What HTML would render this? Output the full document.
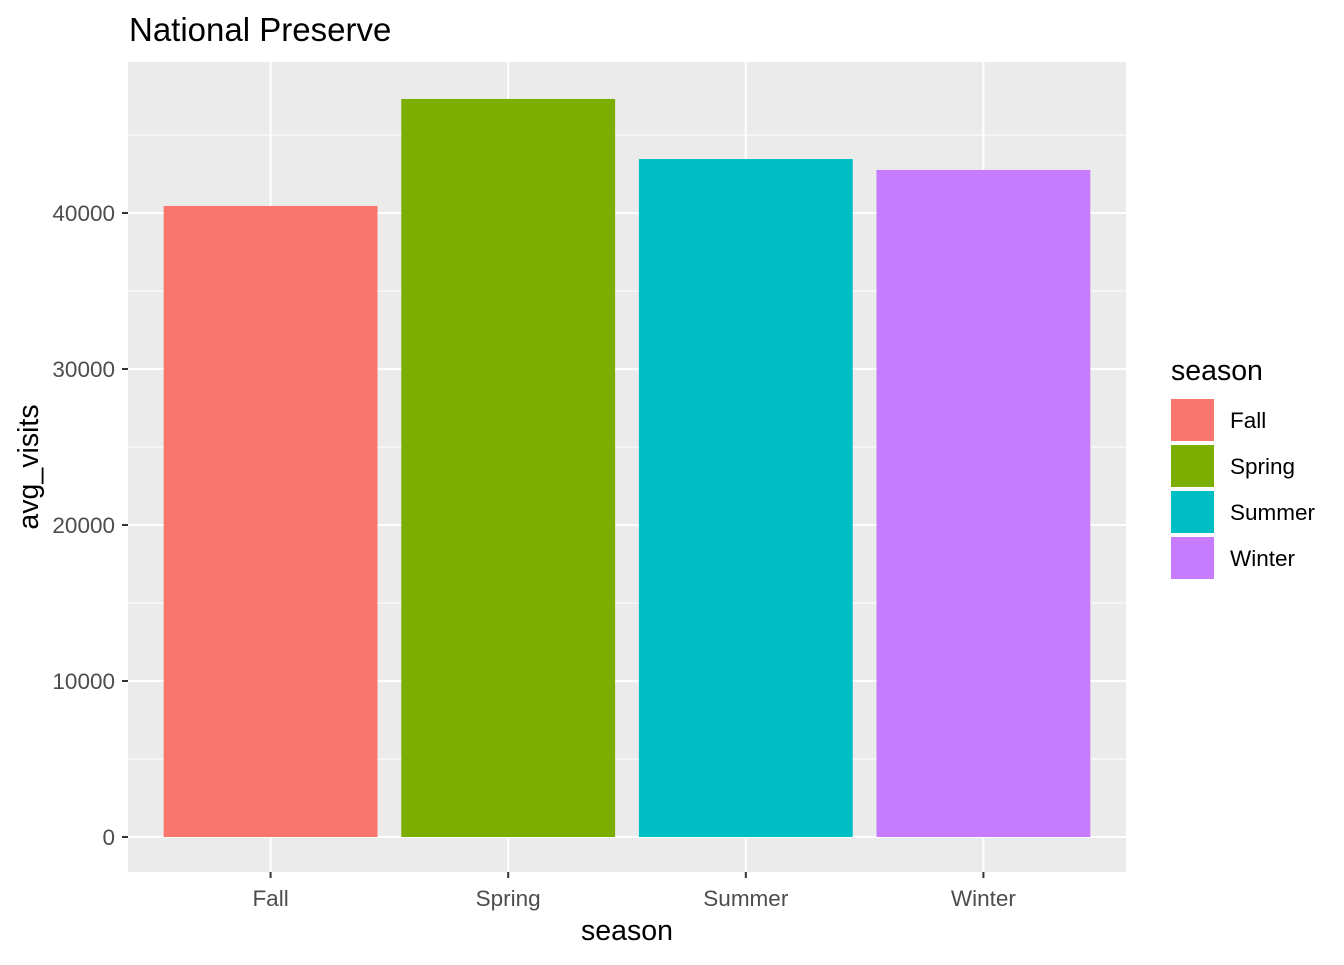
<!DOCTYPE html>
<html><head><meta charset="utf-8"><style>
body{margin:0;background:#fff;}
svg text{font-family:"Liberation Sans",Arial,sans-serif;}
</style></head><body>
<svg id="chart" width="1344" height="960" xmlns="http://www.w3.org/2000/svg">
<rect width="1344" height="960" fill="#fff"/>
<text x="129" y="41" font-size="33" fill="#000">National Preserve</text>
<rect x="128" y="62" width="998" height="810" fill="#ebebeb"/>
<g id="grid"></g>
<g id="bars"></g>
<g id="axes"></g>
<text x="627" y="940" font-size="28.5" text-anchor="middle" fill="#000">season</text>
<text transform="translate(38,467) rotate(-90)" font-size="28.5" text-anchor="middle" fill="#000">avg_visits</text>
<g id="legend">
<text x="1171" y="380" font-size="28.5" fill="#000">season</text>
</g>
</svg>
<script>
const categories = ["Fall","Spring","Summer","Winter"];
const values = [40450, 47310, 43460, 42760];
const colors = ["#F8766D","#7CAE00","#00BFC4","#C77CFF"];
const yTicks = [0,10000,20000,30000,40000];
const yTickLabels = ["0","10000","20000","30000","40000"];
const NS="http://www.w3.org/2000/svg";
const x0=128,x1=1126,yTop=62,yBot=872;
const yScale=v=>837-v*0.0156;
const step=(x1-x0)/(categories.length+0.2);
const xCenter=i=>x0+step*(0.6+i);
function mk(tag,attrs,parent){const e=document.createElementNS(NS,tag);for(const k in attrs)e.setAttribute(k,attrs[k]);parent.appendChild(e);return e;}
const grid=document.getElementById('grid'),bars=document.getElementById('bars'),axes=document.getElementById('axes'),legend=document.getElementById('legend');
for(let v=5000;v<50000;v+=10000){const y=yScale(v);if(y<yTop)continue;const l=mk('line',{x1:x0,x2:x1,y1:y,y2:y,stroke:'#fff','stroke-width':1},grid);

}
yTicks.forEach((v,i)=>{const y=yScale(v);
const l=mk('line',{x1:x0,x2:x1,y1:y,y2:y,stroke:'#fff','stroke-width':2},grid);


const t=mk('line',{x1:122,x2:128,y1:y,y2:y,stroke:'#333','stroke-width':2},axes);


const tx=mk('text',{x:115,y:y+8,'font-size':22.5,'text-anchor':'end',fill:'#4d4d4d'},axes);tx.textContent=yTickLabels[i];

});
categories.forEach((c,i)=>{const cx=xCenter(i);
const g=mk('line',{x1:cx,x2:cx,y1:yTop,y2:yBot,stroke:'#fff','stroke-width':2},grid);


const w=step*0.9;const y=yScale(values[i]);
const b=mk('rect',{x:cx-w/2,y:y,width:w,height:yScale(0)-y,fill:colors[i]},bars);


const t=mk('line',{x1:cx,x2:cx,y1:872,y2:878,stroke:'#333','stroke-width':2},axes);


const tx=mk('text',{x:cx,y:906,'font-size':22.5,'text-anchor':'middle',fill:'#4d4d4d'},axes);tx.textContent=c;


const ly=398+i*46;
const k=mk('rect',{x:1170,y:ly,width:45,height:44,fill:colors[i],stroke:'#fff','stroke-width':2},legend);


const lt=mk('text',{x:1230,y:ly+30,'font-size':22.5,fill:'#000'},legend);lt.textContent=c;

});
</script>
</body></html>
